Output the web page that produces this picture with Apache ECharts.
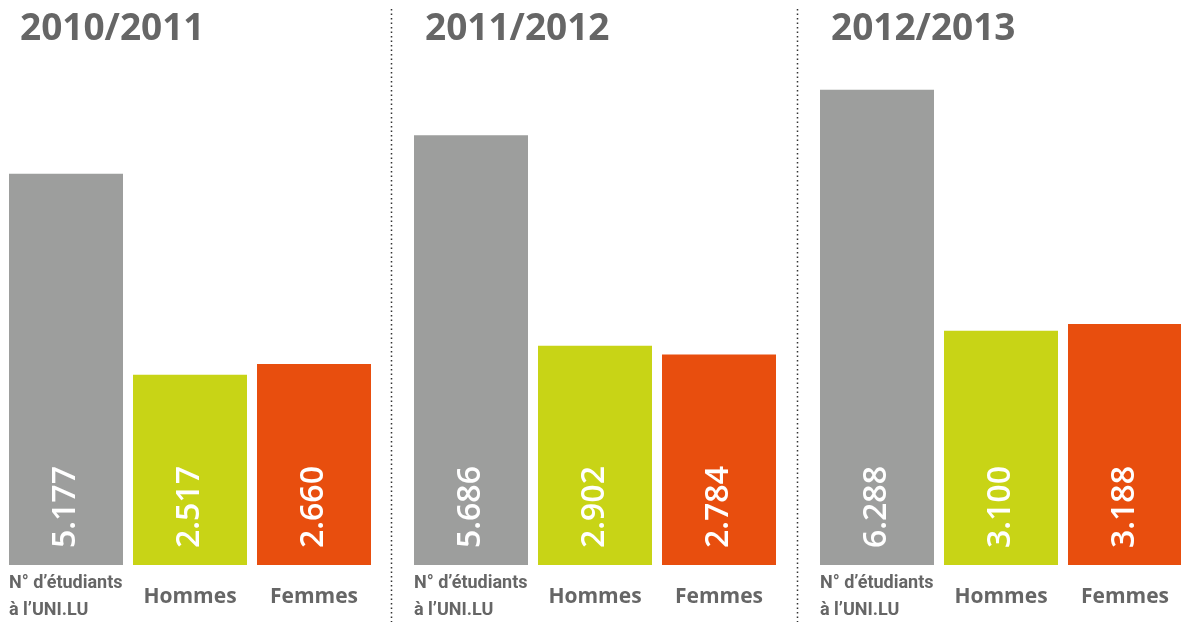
<!DOCTYPE html>
<html>
<head>
<meta charset="utf-8">
<script src="https://cdn.jsdelivr.net/npm/echarts@6/dist/echarts.min.js"></script>
<style>
  html, body { margin: 0; padding: 0; background: #fff; }
  #chart { width: 1181px; height: 622px; }
</style>
</head>
<body>
<div id="chart"></div>
<script>
const years = ['2010/2011', '2011/2012', '2012/2013'];
const categories = ['N° d’étudiants\nà l’UNI.LU', 'Hommes', 'Femmes'];
const totals = [5177, 5686, 6288];
const hommes = [2517, 2902, 3100];
const femmes = [2660, 2784, 3188];
const colors = ['#9d9e9d', '#c8d416', '#e84e0e'];

const panelLeft = [4, 409, 815];
const gridWidth = 372;
const textGray = '#666666';

// thousands with a dot, like "5.177"
const fmt = v => String(v).replace(/\B(?=(\d{3})+(?!\d))/g, '.');

const chart = echarts.init(document.getElementById('chart'));

const grids = [], xAxes = [], yAxes = [], series = [], titles = [];
years.forEach((year, i) => {
  // the last panel runs past the right edge, so don't let it get squeezed in
  grids.push({ left: panelLeft[i], top: 36, width: gridWidth, height: 529, outerBoundsMode: 'none', containLabel: false });
  xAxes.push({
    type: 'category', gridIndex: i, data: categories,
    axisLine: { show: false }, axisTick: { show: false },
    axisLabel: {
      interval: 0, margin: 32, verticalAlign: 'middle', width: 114,
      formatter: (v, idx) => idx === 0
        ? v.split('\n').map(s => `{l|${s}}`).join('\n')
        : `{c|${v}}`,
      rich: {
        l: { align: 'left', fontFamily: 'Roboto, sans-serif',
             fontWeight: 'bold', fontSize: 18, lineHeight: 27, color: textGray },
        c: { align: 'center', fontFamily: '"Open Sans", sans-serif',
             fontWeight: 'bold', fontSize: 21, lineHeight: 27, color: textGray },
      },
    },
  });
  yAxes.push({ type: 'value', gridIndex: i, min: 0, max: 7000, show: false, splitLine: { show: false } });
  series.push({
    type: 'bar', xAxisIndex: i, yAxisIndex: i, barWidth: 114,
    data: [totals[i], hommes[i], femmes[i]].map((v, j) => ({ value: v, itemStyle: { color: colors[j] } })),
    label: {
      show: true, position: 'insideBottom', rotate: 90, align: 'left', verticalAlign: 'middle',
      distance: 17, color: '#fff', fontFamily: '"Open Sans", sans-serif', fontWeight: 600, fontSize: 32,
      formatter: p => fmt(p.value),
    },
    silent: true,
  });
  titles.push({
    text: year, left: panelLeft[i] + 11, top: 6,
    textStyle: { fontFamily: '"Open Sans", sans-serif', fontWeight: 'bold', fontSize: 37, color: textGray },
  });
});

const sep = x => ({
  type: 'line', shape: { x1: x, y1: 9, x2: x, y2: 622 },
  style: { stroke: '#333', lineWidth: 1.5, lineDash: [1.5, 3] },
});

chart.setOption({
  animation: false,
  backgroundColor: '#fff',
  title: titles,
  grid: grids,
  xAxis: xAxes,
  yAxis: yAxes,
  series: series,
  graphic: [sep(391.5), sep(797.5)],
});
</script>
</body>
</html>
